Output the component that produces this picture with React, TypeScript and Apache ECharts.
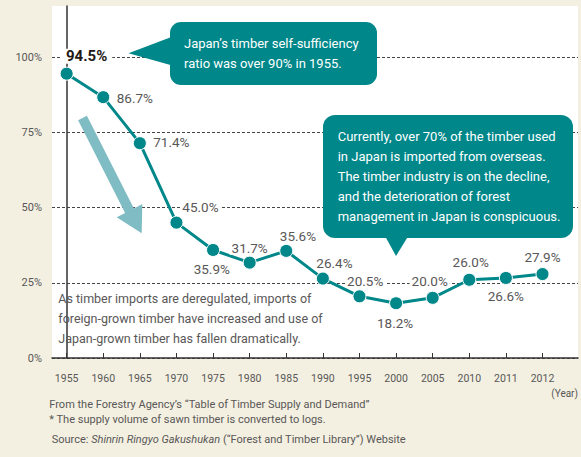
import React, { useEffect, useRef } from "react";
import * as echarts from "echarts";

const years = ["1955", "1960", "1965", "1970", "1975", "1980", "1985", "1990", "1995", "2000", "2005", "2010", "2011", "2012"];
const ratio = [94.5, 86.7, 71.4, 45.0, 35.9, 31.7, 35.6, 26.4, 20.5, 18.2, 20.0, 26.0, 26.6, 27.9];
const yTicks = [0, 25, 50, 75, 100];
const callout1 = ["Japan’s timber self-sufficiency", "ratio was over 90% in 1955."];
const callout2 = [
  "Currently, over 70% of the timber used",
  "in Japan is imported from overseas.",
  "The timber industry is on the decline,",
  "and the deterioration of forest",
  "management in Japan is conspicuous.",
];
const note = [
  "As timber imports are deregulated, imports of",
  "foreign-grown timber have increased and use of",
  "Japan-grown timber has fallen dramatically.",
];
const footer = [
  "From the Forestry Agency’s “Table of Timber Supply and Demand”",
  "* The supply volume of sawn timber is converted to logs.",
];
const sourceLine = "Source: {it|Shinrin Ringyo Gakushukan} (“Forest and Timber Library”) Website";

// label placement relative to each point (px)
const labelOffsets = [
  [20, -17.5], [31.6, 1.3], [31.5, -1.4], [24, -15.2], [-1.3, 19.3], [0, -15], [11.7, -15.3],
  [11.6, -15.2], [5.7, -15.6], [-1, 20], [-3, -17], [1.4, -18], [0, 18], [0, -16.7],
];

const FONT = "Roboto, sans-serif";
const TEAL = "#00878a";
const GRAY = "#595757";
const BG = "#f3f0e1";

export default function App() {
  const ref = useRef<HTMLDivElement>(null);
  useEffect(() => {
    if (!ref.current) return;
    const chart = echarts.init(ref.current, undefined, { renderer: "svg" });
    const idx = years.map((_, i) => i);
    chart.setOption({
      animation: false,
      backgroundColor: BG,
      textStyle: { fontFamily: FONT },
      grid: { left: 52, right: 3, top: 6, bottom: 99, show: true, backgroundColor: "#fff", borderWidth: 0 },
      xAxis: {
        type: "value",
        min: -0.4,
        max: 13.97,
        axisLine: { show: true, lineStyle: { color: "#333", width: 1.5 } },
        axisTick: { show: true, customValues: idx, inside: true, length: 5, lineStyle: { color: "#333", width: 1 } },
        axisLabel: {
          customValues: idx,
          formatter: (v: number) => years[Math.round(v)] ?? "",
          color: GRAY,
          fontSize: 10.5,
          margin: 15,
          fontFamily: FONT,
        },
        splitLine: { show: false },
      },
      yAxis: {
        type: "value",
        min: 0,
        max: 117,
        axisLine: { show: true, lineStyle: { color: "#333", width: 1.5 } },
        axisTick: { show: false, customValues: yTicks },
        axisLabel: { customValues: yTicks, formatter: "{value}%", color: GRAY, fontSize: 11, margin: 10, fontFamily: FONT },
        splitLine: { show: true, lineStyle: { type: [3, 2], color: "#444", width: 1 } },
      },
      series: [
        {
          type: "line",
          data: ratio.map((v, i) => ({
            value: [i, v],
            label:
              i === 0
                ? { offset: labelOffsets[i], fontWeight: "bold", color: "#231815", fontSize: 15, padding: [0, 5] }
                : { offset: labelOffsets[i] },
          })),
          symbol: "circle",
          symbolSize: 13,
          lineStyle: { color: TEAL, width: 3 },
          itemStyle: { color: TEAL, borderColor: "#fff", borderWidth: 1 },
          label: {
            show: true,
            position: "inside",
            formatter: (p: any) => p.value[1].toFixed(1) + "%",
            color: GRAY,
            fontSize: 13.5,
            fontFamily: FONT,
            backgroundColor: "#fff",
            padding: [0, 2],
          },
        },
      ],
      graphic: [
        {
          type: "polygon",
          z: 100,
          shape: {
            points: [
              [78.1, 120.3], [86.9, 115.7], [133.9, 208.4], [142.3, 204], [141.7, 233.3], [116.7, 217.3], [125.1, 213],
            ],
          },
          style: { fill: "#7fbcc3" },
        },
        { type: "rect", z: 100, shape: { x: 170, y: 22, width: 207, height: 63, r: 11 }, style: { fill: TEAL } },
        { type: "polygon", z: 100, shape: { points: [[128.5, 53.3], [174, 36], [174, 66]] }, style: { fill: TEAL } },
        {
          type: "text",
          z: 101,
          x: 184,
          y: 33,
          style: { text: callout1.join("\n"), fill: "#fff", font: `13px ${FONT}`, lineHeight: 20, verticalAlign: "top" },
        },
        { type: "rect", z: 100, shape: { x: 323, y: 115, width: 250, height: 123, r: 12 }, style: { fill: TEAL } },
        { type: "polygon", z: 100, shape: { points: [[385, 236], [408.3, 236], [396, 256]] }, style: { fill: TEAL } },
        {
          type: "text",
          z: 101,
          x: 337.7,
          y: 126.7,
          style: { text: callout2.join("\n"), fill: "#fff", font: `13px ${FONT}`, lineHeight: 20, verticalAlign: "top" },
        },
        {
          type: "text",
          z: 101,
          x: 58.3,
          y: 288.3,
          style: { text: note.join("\n"), fill: GRAY, font: `12.5px ${FONT}`, lineHeight: 20, verticalAlign: "top" },
        },
        {
          type: "text",
          z: 101,
          x: 578,
          y: 393.3,
          style: { text: "(Year)", fill: GRAY, font: `10px ${FONT}`, align: "right", verticalAlign: "middle" },
        },
        {
          type: "text",
          z: 101,
          x: 49.3,
          y: 396.5,
          style: { text: footer.join("\n"), fill: GRAY, font: `11px ${FONT}`, lineHeight: 15, verticalAlign: "top" },
        },
        {
          type: "text",
          z: 101,
          x: 51.7,
          y: 439,
          style: {
            text: sourceLine,
            fill: GRAY,
            font: `11px ${FONT}`,
            verticalAlign: "middle",
            rich: { it: { fontStyle: "italic", fontSize: 11, fontFamily: FONT, fill: GRAY } },
          },
        },
      ],
    });
    return () => chart.dispose();
  }, []);
  return (
    <div
      ref={ref}
      style={{ position: "absolute", left: 0, top: 0, width: 581, height: 457, background: BG }}
    />
  );
}
